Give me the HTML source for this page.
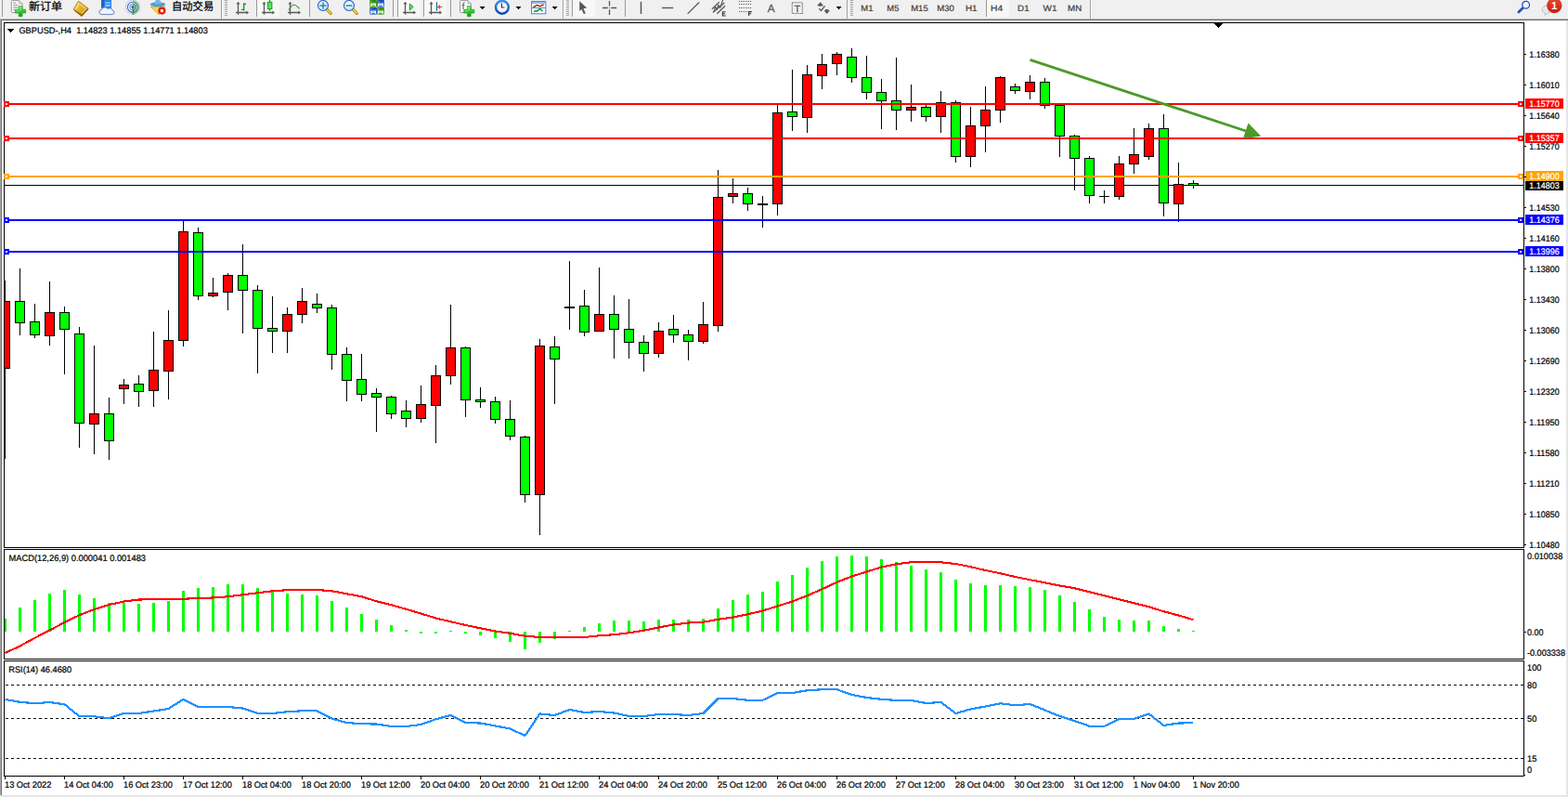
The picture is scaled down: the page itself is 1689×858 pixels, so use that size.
<!DOCTYPE html>
<html><head><meta charset="utf-8"><title>GBPUSD-,H4</title>
<style>
html,body{margin:0;padding:0;background:#fff;}
body{width:1689px;height:858px;overflow:hidden;position:relative;font-family:"Liberation Sans",sans-serif;}
#tb{position:absolute;left:0;top:0;width:1689px;height:20px;background:#f0f0f0;}
svg{position:absolute;left:0;top:0;}
svg text{font-family:"Liberation Sans","Noto Sans CJK SC",sans-serif;white-space:pre;}
</style></head><body>
<div id="tb"></div>
<svg width="1689" height="858" viewBox="0 0 1689 858" shape-rendering="crispEdges" text-rendering="geometricPrecision">
<defs><clipPath id="cm"><rect x="5" y="25" width="1636" height="564"/></clipPath></defs>
<rect x="0" y="20" width="1689" height="1" fill="#b9b9b9"/>
<rect x="0" y="21" width="1689" height="1" fill="#6a6a6a"/>
<rect x="0" y="20" width="1" height="838" fill="#a6a6a6"/>
<rect x="1" y="21" width="1" height="837" fill="#747474"/>
<rect x="1687" y="22" width="2" height="836" fill="#e6e6e6"/>
<rect x="0" y="856" width="1689" height="2" fill="#e6e6e6"/>
<rect x="4" y="24" width="1638" height="1" fill="#000"/>
<rect x="4" y="589" width="1638" height="1" fill="#000"/>
<rect x="4" y="24" width="1" height="566" fill="#000"/>
<rect x="1641" y="24" width="1" height="566" fill="#000"/>
<rect x="4" y="591" width="1638" height="1" fill="#000"/>
<rect x="4" y="709" width="1638" height="1" fill="#000"/>
<rect x="4" y="591" width="1" height="119" fill="#000"/>
<rect x="1641" y="591" width="1" height="119" fill="#000"/>
<rect x="4" y="711" width="1638" height="1" fill="#000"/>
<rect x="4" y="835" width="1638" height="1" fill="#000"/>
<rect x="4" y="711" width="1" height="125" fill="#000"/>
<rect x="1641" y="711" width="1" height="125" fill="#000"/>
<rect x="5" y="199" width="1636" height="1" fill="#000"/>
<g clip-path="url(#cm)">
<rect x="5" y="302" width="1" height="192" fill="#000"/>
<rect x="0" y="324" width="11" height="73" fill="#000"/>
<rect x="1" y="325" width="9" height="71" fill="#f00"/>
<rect x="21" y="289" width="1" height="72" fill="#000"/>
<rect x="16" y="324" width="11" height="24" fill="#000"/>
<rect x="17" y="325" width="9" height="22" fill="#0f0"/>
<rect x="37" y="327" width="1" height="37" fill="#000"/>
<rect x="32" y="346" width="11" height="15" fill="#000"/>
<rect x="33" y="347" width="9" height="13" fill="#0f0"/>
<rect x="53" y="303" width="1" height="69" fill="#000"/>
<rect x="48" y="336" width="11" height="26" fill="#000"/>
<rect x="49" y="337" width="9" height="24" fill="#f00"/>
<rect x="69" y="330" width="1" height="73" fill="#000"/>
<rect x="64" y="336" width="11" height="19" fill="#000"/>
<rect x="65" y="337" width="9" height="17" fill="#0f0"/>
<rect x="85" y="352" width="1" height="130" fill="#000"/>
<rect x="80" y="359" width="11" height="97" fill="#000"/>
<rect x="81" y="360" width="9" height="95" fill="#0f0"/>
<rect x="101" y="372" width="1" height="117" fill="#000"/>
<rect x="96" y="445" width="11" height="12" fill="#000"/>
<rect x="97" y="446" width="9" height="10" fill="#f00"/>
<rect x="117" y="428" width="1" height="67" fill="#000"/>
<rect x="112" y="445" width="11" height="30" fill="#000"/>
<rect x="113" y="446" width="9" height="28" fill="#0f0"/>
<rect x="133" y="408" width="1" height="27" fill="#000"/>
<rect x="128" y="414" width="11" height="5" fill="#000"/>
<rect x="129" y="415" width="9" height="3" fill="#f00"/>
<rect x="149" y="404" width="1" height="34" fill="#000"/>
<rect x="144" y="413" width="11" height="9" fill="#000"/>
<rect x="145" y="414" width="9" height="7" fill="#0f0"/>
<rect x="165" y="357" width="1" height="81" fill="#000"/>
<rect x="160" y="398" width="11" height="23" fill="#000"/>
<rect x="161" y="399" width="9" height="21" fill="#f00"/>
<rect x="181" y="334" width="1" height="96" fill="#000"/>
<rect x="176" y="366" width="11" height="34" fill="#000"/>
<rect x="177" y="367" width="9" height="32" fill="#f00"/>
<rect x="197" y="237" width="1" height="136" fill="#000"/>
<rect x="192" y="249" width="11" height="118" fill="#000"/>
<rect x="193" y="250" width="9" height="116" fill="#f00"/>
<rect x="213" y="245" width="1" height="78" fill="#000"/>
<rect x="208" y="250" width="11" height="69" fill="#000"/>
<rect x="209" y="251" width="9" height="67" fill="#0f0"/>
<rect x="229" y="299" width="1" height="21" fill="#000"/>
<rect x="224" y="315" width="11" height="4" fill="#000"/>
<rect x="225" y="316" width="9" height="2" fill="#f00"/>
<rect x="245" y="294" width="1" height="40" fill="#000"/>
<rect x="240" y="296" width="11" height="19" fill="#000"/>
<rect x="241" y="297" width="9" height="17" fill="#f00"/>
<rect x="261" y="263" width="1" height="96" fill="#000"/>
<rect x="256" y="296" width="11" height="17" fill="#000"/>
<rect x="257" y="297" width="9" height="15" fill="#0f0"/>
<rect x="277" y="307" width="1" height="95" fill="#000"/>
<rect x="272" y="312" width="11" height="42" fill="#000"/>
<rect x="273" y="313" width="9" height="40" fill="#0f0"/>
<rect x="293" y="319" width="1" height="61" fill="#000"/>
<rect x="288" y="353" width="11" height="4" fill="#000"/>
<rect x="289" y="354" width="9" height="2" fill="#0f0"/>
<rect x="309" y="331" width="1" height="49" fill="#000"/>
<rect x="304" y="338" width="11" height="19" fill="#000"/>
<rect x="305" y="339" width="9" height="17" fill="#f00"/>
<rect x="325" y="310" width="1" height="38" fill="#000"/>
<rect x="320" y="324" width="11" height="15" fill="#000"/>
<rect x="321" y="325" width="9" height="13" fill="#f00"/>
<rect x="341" y="316" width="1" height="21" fill="#000"/>
<rect x="336" y="327" width="11" height="5" fill="#000"/>
<rect x="337" y="328" width="9" height="3" fill="#0f0"/>
<rect x="357" y="328" width="1" height="70" fill="#000"/>
<rect x="352" y="331" width="11" height="51" fill="#000"/>
<rect x="353" y="332" width="9" height="49" fill="#0f0"/>
<rect x="373" y="374" width="1" height="58" fill="#000"/>
<rect x="368" y="381" width="11" height="29" fill="#000"/>
<rect x="369" y="382" width="9" height="27" fill="#0f0"/>
<rect x="389" y="381" width="1" height="51" fill="#000"/>
<rect x="384" y="408" width="11" height="17" fill="#000"/>
<rect x="385" y="409" width="9" height="15" fill="#0f0"/>
<rect x="405" y="418" width="1" height="47" fill="#000"/>
<rect x="400" y="423" width="11" height="5" fill="#000"/>
<rect x="401" y="424" width="9" height="3" fill="#0f0"/>
<rect x="421" y="426" width="1" height="25" fill="#000"/>
<rect x="416" y="427" width="11" height="19" fill="#000"/>
<rect x="417" y="428" width="9" height="17" fill="#0f0"/>
<rect x="437" y="431" width="1" height="29" fill="#000"/>
<rect x="432" y="442" width="11" height="9" fill="#000"/>
<rect x="433" y="443" width="9" height="7" fill="#0f0"/>
<rect x="453" y="415" width="1" height="40" fill="#000"/>
<rect x="448" y="435" width="11" height="16" fill="#000"/>
<rect x="449" y="436" width="9" height="14" fill="#f00"/>
<rect x="469" y="393" width="1" height="84" fill="#000"/>
<rect x="464" y="404" width="11" height="33" fill="#000"/>
<rect x="465" y="405" width="9" height="31" fill="#f00"/>
<rect x="485" y="328" width="1" height="86" fill="#000"/>
<rect x="480" y="374" width="11" height="31" fill="#000"/>
<rect x="481" y="375" width="9" height="29" fill="#f00"/>
<rect x="501" y="373" width="1" height="76" fill="#000"/>
<rect x="496" y="374" width="11" height="57" fill="#000"/>
<rect x="497" y="375" width="9" height="55" fill="#0f0"/>
<rect x="517" y="417" width="1" height="22" fill="#000"/>
<rect x="512" y="430" width="11" height="3" fill="#000"/>
<rect x="513" y="431" width="9" height="1" fill="#0f0"/>
<rect x="533" y="427" width="1" height="29" fill="#000"/>
<rect x="528" y="432" width="11" height="20" fill="#000"/>
<rect x="529" y="433" width="9" height="18" fill="#0f0"/>
<rect x="549" y="431" width="1" height="43" fill="#000"/>
<rect x="544" y="451" width="11" height="19" fill="#000"/>
<rect x="545" y="452" width="9" height="17" fill="#0f0"/>
<rect x="565" y="469" width="1" height="72" fill="#000"/>
<rect x="560" y="470" width="11" height="63" fill="#000"/>
<rect x="561" y="471" width="9" height="61" fill="#0f0"/>
<rect x="581" y="365" width="1" height="211" fill="#000"/>
<rect x="576" y="372" width="11" height="161" fill="#000"/>
<rect x="577" y="373" width="9" height="159" fill="#f00"/>
<rect x="597" y="362" width="1" height="73" fill="#000"/>
<rect x="592" y="373" width="11" height="14" fill="#000"/>
<rect x="593" y="374" width="9" height="12" fill="#0f0"/>
<rect x="613" y="281" width="1" height="74" fill="#000"/>
<rect x="608" y="330" width="11" height="2" fill="#000"/>
<rect x="629" y="312" width="1" height="50" fill="#000"/>
<rect x="624" y="329" width="11" height="29" fill="#000"/>
<rect x="625" y="330" width="9" height="27" fill="#0f0"/>
<rect x="645" y="288" width="1" height="69" fill="#000"/>
<rect x="640" y="338" width="11" height="19" fill="#000"/>
<rect x="641" y="339" width="9" height="17" fill="#f00"/>
<rect x="661" y="318" width="1" height="68" fill="#000"/>
<rect x="656" y="338" width="11" height="17" fill="#000"/>
<rect x="657" y="339" width="9" height="15" fill="#0f0"/>
<rect x="677" y="322" width="1" height="64" fill="#000"/>
<rect x="672" y="354" width="11" height="15" fill="#000"/>
<rect x="673" y="355" width="9" height="13" fill="#0f0"/>
<rect x="693" y="361" width="1" height="39" fill="#000"/>
<rect x="688" y="368" width="11" height="13" fill="#000"/>
<rect x="689" y="369" width="9" height="11" fill="#0f0"/>
<rect x="709" y="347" width="1" height="38" fill="#000"/>
<rect x="704" y="356" width="11" height="25" fill="#000"/>
<rect x="705" y="357" width="9" height="23" fill="#f00"/>
<rect x="725" y="339" width="1" height="30" fill="#000"/>
<rect x="720" y="354" width="11" height="7" fill="#000"/>
<rect x="721" y="355" width="9" height="5" fill="#0f0"/>
<rect x="741" y="355" width="1" height="33" fill="#000"/>
<rect x="736" y="360" width="11" height="8" fill="#000"/>
<rect x="737" y="361" width="9" height="6" fill="#0f0"/>
<rect x="757" y="325" width="1" height="45" fill="#000"/>
<rect x="752" y="349" width="11" height="19" fill="#000"/>
<rect x="753" y="350" width="9" height="17" fill="#f00"/>
<rect x="773" y="183" width="1" height="174" fill="#000"/>
<rect x="768" y="212" width="11" height="139" fill="#000"/>
<rect x="769" y="213" width="9" height="137" fill="#f00"/>
<rect x="789" y="192" width="1" height="27" fill="#000"/>
<rect x="784" y="208" width="11" height="4" fill="#000"/>
<rect x="785" y="209" width="9" height="2" fill="#f00"/>
<rect x="805" y="202" width="1" height="25" fill="#000"/>
<rect x="800" y="208" width="11" height="12" fill="#000"/>
<rect x="801" y="209" width="9" height="10" fill="#0f0"/>
<rect x="821" y="211" width="1" height="34" fill="#000"/>
<rect x="816" y="219" width="11" height="2" fill="#000"/>
<rect x="837" y="113" width="1" height="119" fill="#000"/>
<rect x="832" y="121" width="11" height="99" fill="#000"/>
<rect x="833" y="122" width="9" height="97" fill="#f00"/>
<rect x="853" y="75" width="1" height="66" fill="#000"/>
<rect x="848" y="120" width="11" height="6" fill="#000"/>
<rect x="849" y="121" width="9" height="4" fill="#0f0"/>
<rect x="869" y="70" width="1" height="73" fill="#000"/>
<rect x="864" y="80" width="11" height="47" fill="#000"/>
<rect x="865" y="81" width="9" height="45" fill="#f00"/>
<rect x="885" y="58" width="1" height="38" fill="#000"/>
<rect x="880" y="69" width="11" height="13" fill="#000"/>
<rect x="881" y="70" width="9" height="11" fill="#f00"/>
<rect x="901" y="56" width="1" height="25" fill="#000"/>
<rect x="896" y="58" width="11" height="11" fill="#000"/>
<rect x="897" y="59" width="9" height="9" fill="#f00"/>
<rect x="917" y="52" width="1" height="37" fill="#000"/>
<rect x="912" y="61" width="11" height="23" fill="#000"/>
<rect x="913" y="62" width="9" height="21" fill="#0f0"/>
<rect x="933" y="60" width="1" height="47" fill="#000"/>
<rect x="928" y="83" width="11" height="17" fill="#000"/>
<rect x="929" y="84" width="9" height="15" fill="#0f0"/>
<rect x="949" y="85" width="1" height="54" fill="#000"/>
<rect x="944" y="99" width="11" height="10" fill="#000"/>
<rect x="945" y="100" width="9" height="8" fill="#0f0"/>
<rect x="965" y="62" width="1" height="78" fill="#000"/>
<rect x="960" y="108" width="11" height="11" fill="#000"/>
<rect x="961" y="109" width="9" height="9" fill="#0f0"/>
<rect x="981" y="91" width="1" height="40" fill="#000"/>
<rect x="976" y="115" width="11" height="4" fill="#000"/>
<rect x="977" y="116" width="9" height="2" fill="#f00"/>
<rect x="997" y="113" width="1" height="18" fill="#000"/>
<rect x="992" y="115" width="11" height="11" fill="#000"/>
<rect x="993" y="116" width="9" height="9" fill="#0f0"/>
<rect x="1013" y="98" width="1" height="45" fill="#000"/>
<rect x="1008" y="110" width="11" height="16" fill="#000"/>
<rect x="1009" y="111" width="9" height="14" fill="#f00"/>
<rect x="1029" y="108" width="1" height="67" fill="#000"/>
<rect x="1024" y="110" width="11" height="59" fill="#000"/>
<rect x="1025" y="111" width="9" height="57" fill="#0f0"/>
<rect x="1045" y="115" width="1" height="65" fill="#000"/>
<rect x="1040" y="135" width="11" height="34" fill="#000"/>
<rect x="1041" y="136" width="9" height="32" fill="#f00"/>
<rect x="1061" y="93" width="1" height="71" fill="#000"/>
<rect x="1056" y="118" width="11" height="18" fill="#000"/>
<rect x="1057" y="119" width="9" height="16" fill="#f00"/>
<rect x="1077" y="82" width="1" height="50" fill="#000"/>
<rect x="1072" y="83" width="11" height="36" fill="#000"/>
<rect x="1073" y="84" width="9" height="34" fill="#f00"/>
<rect x="1093" y="90" width="1" height="11" fill="#000"/>
<rect x="1088" y="93" width="11" height="5" fill="#000"/>
<rect x="1089" y="94" width="9" height="3" fill="#0f0"/>
<rect x="1109" y="81" width="1" height="26" fill="#000"/>
<rect x="1104" y="88" width="11" height="11" fill="#000"/>
<rect x="1105" y="89" width="9" height="9" fill="#f00"/>
<rect x="1125" y="84" width="1" height="33" fill="#000"/>
<rect x="1120" y="88" width="11" height="26" fill="#000"/>
<rect x="1121" y="89" width="9" height="24" fill="#0f0"/>
<rect x="1141" y="112" width="1" height="57" fill="#000"/>
<rect x="1136" y="113" width="11" height="34" fill="#000"/>
<rect x="1137" y="114" width="9" height="32" fill="#0f0"/>
<rect x="1157" y="145" width="1" height="60" fill="#000"/>
<rect x="1152" y="146" width="11" height="25" fill="#000"/>
<rect x="1153" y="147" width="9" height="23" fill="#0f0"/>
<rect x="1173" y="168" width="1" height="51" fill="#000"/>
<rect x="1168" y="170" width="11" height="41" fill="#000"/>
<rect x="1169" y="171" width="9" height="39" fill="#0f0"/>
<rect x="1189" y="205" width="1" height="14" fill="#000"/>
<rect x="1184" y="211" width="11" height="1" fill="#000"/>
<rect x="1205" y="168" width="1" height="47" fill="#000"/>
<rect x="1200" y="176" width="11" height="36" fill="#000"/>
<rect x="1201" y="177" width="9" height="34" fill="#f00"/>
<rect x="1221" y="138" width="1" height="49" fill="#000"/>
<rect x="1216" y="166" width="11" height="11" fill="#000"/>
<rect x="1217" y="167" width="9" height="9" fill="#f00"/>
<rect x="1237" y="133" width="1" height="39" fill="#000"/>
<rect x="1232" y="138" width="11" height="31" fill="#000"/>
<rect x="1233" y="139" width="9" height="29" fill="#f00"/>
<rect x="1253" y="123" width="1" height="110" fill="#000"/>
<rect x="1248" y="138" width="11" height="81" fill="#000"/>
<rect x="1249" y="139" width="9" height="79" fill="#0f0"/>
<rect x="1269" y="175" width="1" height="64" fill="#000"/>
<rect x="1264" y="198" width="11" height="22" fill="#000"/>
<rect x="1265" y="199" width="9" height="20" fill="#f00"/>
<rect x="1285" y="194" width="1" height="9" fill="#000"/>
<rect x="1280" y="197" width="11" height="3" fill="#000"/>
<rect x="1281" y="198" width="9" height="1" fill="#0f0"/>
</g>
<rect x="5" y="111" width="1636" height="2" fill="#f00"/>
<rect x="4" y="109" width="6" height="6" fill="#f00"/>
<rect x="6" y="111" width="2" height="2" fill="#fff"/>
<rect x="1635" y="109" width="6" height="6" fill="#f00"/>
<rect x="1637" y="111" width="2" height="2" fill="#fff"/>
<rect x="1643" y="106" width="41" height="11" fill="#f00"/>
<text x="1647.3" y="115" font-size="9.5" fill="#fff" textLength="32.4" lengthAdjust="spacingAndGlyphs" stroke="#fff" stroke-width=".22" xml:space="preserve">1.15770</text>
<rect x="5" y="148" width="1636" height="2" fill="#f00"/>
<rect x="4" y="146" width="6" height="6" fill="#f00"/>
<rect x="6" y="148" width="2" height="2" fill="#fff"/>
<rect x="1635" y="146" width="6" height="6" fill="#f00"/>
<rect x="1637" y="148" width="2" height="2" fill="#fff"/>
<rect x="1643" y="143" width="41" height="11" fill="#f00"/>
<text x="1647.3" y="152" font-size="9.5" fill="#fff" textLength="32.4" lengthAdjust="spacingAndGlyphs" stroke="#fff" stroke-width=".22" xml:space="preserve">1.15357</text>
<rect x="5" y="189" width="1636" height="2" fill="#ffa500"/>
<rect x="4" y="187" width="6" height="6" fill="#ffa500"/>
<rect x="6" y="189" width="2" height="2" fill="#fff"/>
<rect x="1635" y="187" width="6" height="6" fill="#ffa500"/>
<rect x="1637" y="189" width="2" height="2" fill="#fff"/>
<rect x="1643" y="184" width="41" height="11" fill="#ffa500"/>
<text x="1647.3" y="193" font-size="9.5" fill="#fff" textLength="32.4" lengthAdjust="spacingAndGlyphs" stroke="#fff" stroke-width=".22" xml:space="preserve">1.14900</text>
<rect x="5" y="236" width="1636" height="2" fill="#00f"/>
<rect x="4" y="234" width="6" height="6" fill="#00f"/>
<rect x="6" y="236" width="2" height="2" fill="#fff"/>
<rect x="1635" y="234" width="6" height="6" fill="#00f"/>
<rect x="1637" y="236" width="2" height="2" fill="#fff"/>
<rect x="1643" y="231" width="41" height="11" fill="#00f"/>
<text x="1647.3" y="240" font-size="9.5" fill="#fff" textLength="32.4" lengthAdjust="spacingAndGlyphs" stroke="#fff" stroke-width=".22" xml:space="preserve">1.14376</text>
<rect x="5" y="270" width="1636" height="2" fill="#00f"/>
<rect x="4" y="268" width="6" height="6" fill="#00f"/>
<rect x="6" y="270" width="2" height="2" fill="#fff"/>
<rect x="1635" y="268" width="6" height="6" fill="#00f"/>
<rect x="1637" y="270" width="2" height="2" fill="#fff"/>
<rect x="1643" y="265" width="41" height="11" fill="#00f"/>
<text x="1647.3" y="274" font-size="9.5" fill="#fff" textLength="32.4" lengthAdjust="spacingAndGlyphs" stroke="#fff" stroke-width=".22" xml:space="preserve">1.13996</text>
<rect x="1643" y="195" width="41" height="10" fill="#000"/>
<text x="1647.3" y="203" font-size="9.5" fill="#fff" textLength="32.4" lengthAdjust="spacingAndGlyphs" stroke="#fff" stroke-width=".22" xml:space="preserve">1.14803</text>
<rect x="1642" y="58" width="2" height="1" fill="#000"/>
<text x="1647.3" y="62" font-size="9.5" fill="#000" textLength="32.4" lengthAdjust="spacingAndGlyphs" stroke="#000" stroke-width=".22" xml:space="preserve">1.16380</text>
<rect x="1642" y="91" width="2" height="1" fill="#000"/>
<text x="1647.3" y="95" font-size="9.5" fill="#000" textLength="32.4" lengthAdjust="spacingAndGlyphs" stroke="#000" stroke-width=".22" xml:space="preserve">1.16010</text>
<rect x="1642" y="124" width="2" height="1" fill="#000"/>
<text x="1647.3" y="128" font-size="9.5" fill="#000" textLength="32.4" lengthAdjust="spacingAndGlyphs" stroke="#000" stroke-width=".22" xml:space="preserve">1.15640</text>
<rect x="1642" y="157" width="2" height="1" fill="#000"/>
<text x="1647.3" y="161" font-size="9.5" fill="#000" textLength="32.4" lengthAdjust="spacingAndGlyphs" stroke="#000" stroke-width=".22" xml:space="preserve">1.15270</text>
<rect x="1642" y="190" width="2" height="1" fill="#000"/>
<rect x="1642" y="223" width="2" height="1" fill="#000"/>
<text x="1647.3" y="227" font-size="9.5" fill="#000" textLength="32.4" lengthAdjust="spacingAndGlyphs" stroke="#000" stroke-width=".22" xml:space="preserve">1.14530</text>
<rect x="1642" y="256" width="2" height="1" fill="#000"/>
<text x="1647.3" y="260" font-size="9.5" fill="#000" textLength="32.4" lengthAdjust="spacingAndGlyphs" stroke="#000" stroke-width=".22" xml:space="preserve">1.14160</text>
<rect x="1642" y="289" width="2" height="1" fill="#000"/>
<text x="1647.3" y="293" font-size="9.5" fill="#000" textLength="32.4" lengthAdjust="spacingAndGlyphs" stroke="#000" stroke-width=".22" xml:space="preserve">1.13800</text>
<rect x="1642" y="322" width="2" height="1" fill="#000"/>
<text x="1647.3" y="326" font-size="9.5" fill="#000" textLength="32.4" lengthAdjust="spacingAndGlyphs" stroke="#000" stroke-width=".22" xml:space="preserve">1.13430</text>
<rect x="1642" y="355" width="2" height="1" fill="#000"/>
<text x="1647.3" y="359" font-size="9.5" fill="#000" textLength="32.4" lengthAdjust="spacingAndGlyphs" stroke="#000" stroke-width=".22" xml:space="preserve">1.13060</text>
<rect x="1642" y="388" width="2" height="1" fill="#000"/>
<text x="1647.3" y="392" font-size="9.5" fill="#000" textLength="32.4" lengthAdjust="spacingAndGlyphs" stroke="#000" stroke-width=".22" xml:space="preserve">1.12690</text>
<rect x="1642" y="421" width="2" height="1" fill="#000"/>
<text x="1647.3" y="425" font-size="9.5" fill="#000" textLength="32.4" lengthAdjust="spacingAndGlyphs" stroke="#000" stroke-width=".22" xml:space="preserve">1.12320</text>
<rect x="1642" y="454" width="2" height="1" fill="#000"/>
<text x="1647.3" y="458" font-size="9.5" fill="#000" textLength="32.4" lengthAdjust="spacingAndGlyphs" stroke="#000" stroke-width=".22" xml:space="preserve">1.11950</text>
<rect x="1642" y="487" width="2" height="1" fill="#000"/>
<text x="1647.3" y="491" font-size="9.5" fill="#000" textLength="32.4" lengthAdjust="spacingAndGlyphs" stroke="#000" stroke-width=".22" xml:space="preserve">1.11580</text>
<rect x="1642" y="520" width="2" height="1" fill="#000"/>
<text x="1647.3" y="524" font-size="9.5" fill="#000" textLength="32.4" lengthAdjust="spacingAndGlyphs" stroke="#000" stroke-width=".22" xml:space="preserve">1.11210</text>
<rect x="1642" y="553" width="2" height="1" fill="#000"/>
<text x="1647.3" y="557" font-size="9.5" fill="#000" textLength="32.4" lengthAdjust="spacingAndGlyphs" stroke="#000" stroke-width=".22" xml:space="preserve">1.10850</text>
<rect x="1642" y="586" width="2" height="1" fill="#000"/>
<text x="1647.3" y="590" font-size="9.5" fill="#000" textLength="32.4" lengthAdjust="spacingAndGlyphs" stroke="#000" stroke-width=".22" xml:space="preserve">1.10480</text>
<polygon points="1307.5,25 1317.5,25 1312.5,30" fill="#000"/>
<polygon points="8,31 15,31 11.5,35" fill="#000"/>
<text x="20.4" y="36" font-size="9.5" fill="#000" textLength="203.4" lengthAdjust="spacingAndGlyphs" stroke="#000" stroke-width=".22" xml:space="preserve">GBPUSD-,H4  1.14823 1.14855 1.14771 1.14803</text>
<g shape-rendering="geometricPrecision"><line x1="1109.5" y1="64.3" x2="1342" y2="141" stroke="#4c9a2a" stroke-width="2.8"/><polygon points="1358.3,146.6 1344.6,132.6 1338.9,149.2" fill="#4c9a2a"/></g>
<rect x="5" y="666" width="2" height="14" fill="#0f0"/>
<rect x="20" y="654" width="3" height="26" fill="#0f0"/>
<rect x="36" y="646" width="3" height="34" fill="#0f0"/>
<rect x="52" y="639" width="3" height="41" fill="#0f0"/>
<rect x="68" y="635" width="3" height="45" fill="#0f0"/>
<rect x="84" y="640" width="3" height="40" fill="#0f0"/>
<rect x="100" y="644" width="3" height="36" fill="#0f0"/>
<rect x="116" y="649" width="3" height="31" fill="#0f0"/>
<rect x="132" y="649" width="3" height="31" fill="#0f0"/>
<rect x="148" y="650" width="3" height="30" fill="#0f0"/>
<rect x="164" y="649" width="3" height="31" fill="#0f0"/>
<rect x="180" y="647" width="3" height="33" fill="#0f0"/>
<rect x="196" y="636" width="3" height="44" fill="#0f0"/>
<rect x="212" y="633" width="3" height="47" fill="#0f0"/>
<rect x="228" y="632" width="3" height="48" fill="#0f0"/>
<rect x="244" y="629" width="3" height="51" fill="#0f0"/>
<rect x="260" y="629" width="3" height="51" fill="#0f0"/>
<rect x="276" y="633" width="3" height="47" fill="#0f0"/>
<rect x="292" y="637" width="3" height="43" fill="#0f0"/>
<rect x="308" y="639" width="3" height="41" fill="#0f0"/>
<rect x="324" y="640" width="3" height="40" fill="#0f0"/>
<rect x="340" y="641" width="3" height="39" fill="#0f0"/>
<rect x="356" y="647" width="3" height="33" fill="#0f0"/>
<rect x="372" y="654" width="3" height="26" fill="#0f0"/>
<rect x="388" y="661" width="3" height="19" fill="#0f0"/>
<rect x="404" y="667" width="3" height="13" fill="#0f0"/>
<rect x="420" y="673" width="3" height="7" fill="#0f0"/>
<rect x="436" y="678" width="3" height="2" fill="#0f0"/>
<rect x="452" y="680" width="3" height="2" fill="#0f0"/>
<rect x="468" y="680" width="3" height="2" fill="#0f0"/>
<rect x="484" y="679" width="3" height="1" fill="#0f0"/>
<rect x="500" y="680" width="3" height="2" fill="#0f0"/>
<rect x="516" y="680" width="3" height="4" fill="#0f0"/>
<rect x="532" y="680" width="3" height="7" fill="#0f0"/>
<rect x="548" y="680" width="3" height="11" fill="#0f0"/>
<rect x="564" y="680" width="3" height="19" fill="#0f0"/>
<rect x="580" y="680" width="3" height="12" fill="#0f0"/>
<rect x="596" y="680" width="3" height="8" fill="#0f0"/>
<rect x="612" y="679" width="3" height="1" fill="#0f0"/>
<rect x="628" y="675" width="3" height="5" fill="#0f0"/>
<rect x="644" y="671" width="3" height="9" fill="#0f0"/>
<rect x="660" y="668" width="3" height="12" fill="#0f0"/>
<rect x="676" y="668" width="3" height="12" fill="#0f0"/>
<rect x="692" y="669" width="3" height="11" fill="#0f0"/>
<rect x="708" y="667" width="3" height="13" fill="#0f0"/>
<rect x="724" y="667" width="3" height="13" fill="#0f0"/>
<rect x="740" y="667" width="3" height="13" fill="#0f0"/>
<rect x="756" y="666" width="3" height="14" fill="#0f0"/>
<rect x="772" y="655" width="3" height="25" fill="#0f0"/>
<rect x="788" y="646" width="3" height="34" fill="#0f0"/>
<rect x="804" y="640" width="3" height="40" fill="#0f0"/>
<rect x="820" y="637" width="3" height="43" fill="#0f0"/>
<rect x="836" y="626" width="3" height="54" fill="#0f0"/>
<rect x="852" y="619" width="3" height="61" fill="#0f0"/>
<rect x="868" y="611" width="3" height="69" fill="#0f0"/>
<rect x="884" y="604" width="3" height="76" fill="#0f0"/>
<rect x="900" y="599" width="3" height="81" fill="#0f0"/>
<rect x="916" y="598" width="3" height="82" fill="#0f0"/>
<rect x="932" y="599" width="3" height="81" fill="#0f0"/>
<rect x="948" y="602" width="3" height="78" fill="#0f0"/>
<rect x="964" y="605" width="3" height="75" fill="#0f0"/>
<rect x="980" y="609" width="3" height="71" fill="#0f0"/>
<rect x="996" y="613" width="3" height="67" fill="#0f0"/>
<rect x="1012" y="616" width="3" height="64" fill="#0f0"/>
<rect x="1028" y="624" width="3" height="56" fill="#0f0"/>
<rect x="1044" y="628" width="3" height="52" fill="#0f0"/>
<rect x="1060" y="630" width="3" height="50" fill="#0f0"/>
<rect x="1076" y="630" width="3" height="50" fill="#0f0"/>
<rect x="1092" y="631" width="3" height="49" fill="#0f0"/>
<rect x="1108" y="632" width="3" height="48" fill="#0f0"/>
<rect x="1124" y="635" width="3" height="45" fill="#0f0"/>
<rect x="1140" y="641" width="3" height="39" fill="#0f0"/>
<rect x="1156" y="648" width="3" height="32" fill="#0f0"/>
<rect x="1172" y="656" width="3" height="24" fill="#0f0"/>
<rect x="1188" y="664" width="3" height="16" fill="#0f0"/>
<rect x="1204" y="667" width="3" height="13" fill="#0f0"/>
<rect x="1220" y="668" width="3" height="12" fill="#0f0"/>
<rect x="1236" y="668" width="3" height="12" fill="#0f0"/>
<rect x="1252" y="674" width="3" height="6" fill="#0f0"/>
<rect x="1268" y="677" width="3" height="3" fill="#0f0"/>
<rect x="1284" y="679" width="3" height="1" fill="#0f0"/>
<polyline points="5.5,703 21.5,695.5 37.5,686.75 53.5,678.5 69.5,670 85.5,662.25 101.5,656 117.5,651 133.5,647.5 149.5,645.5 165.5,645.25 181.5,645.25 197.5,644.75 213.5,644 229.5,643.5 245.5,642.25 261.5,640.25 277.5,638.25 293.5,636.25 309.5,635.25 325.5,635 341.5,635 357.5,636.25 373.5,639.25 389.5,642.25 405.5,647.25 421.5,651.25 437.5,655.75 453.5,660.5 469.5,665.5 485.5,669.25 501.5,673 517.5,676.25 533.5,679.5 549.5,681.75 565.5,684.75 581.5,686 597.5,686.25 613.5,686.25 629.5,686 645.5,684.25 661.5,683.25 677.5,681.25 693.5,678.75 709.5,675.5 725.5,672.5 741.5,670.5 757.5,669.75 773.5,666.75 789.5,664.5 805.5,661.25 821.5,657.5 837.5,652.5 853.5,647.5 869.5,641.25 885.5,634.25 901.5,626.75 917.5,620.5 933.5,615.5 949.5,610.5 965.5,607.25 981.5,605.25 997.5,605 1013.5,605.25 1029.5,607 1045.5,610.25 1061.5,614 1077.5,617.25 1093.5,621 1109.5,624.25 1125.5,627.25 1141.5,630.5 1157.5,633.25 1173.5,637.25 1189.5,641.25 1205.5,645.25 1221.5,649.25 1237.5,653.25 1253.5,658.25 1269.5,662.5 1285.5,667.25" fill="none" stroke="#f00" stroke-width="2.1" stroke-linejoin="round"/>
<text x="9.5" y="604" font-size="9.5" fill="#000" textLength="147.5" lengthAdjust="spacingAndGlyphs" stroke="#000" stroke-width=".22" xml:space="preserve">MACD(12,26,9) 0.000041 0.001483</text>
<text x="1645" y="601.6" font-size="9.5" fill="#000" textLength="38.3" lengthAdjust="spacingAndGlyphs" stroke="#000" stroke-width=".22" xml:space="preserve">0.010038</text>
<text x="1645" y="683.6" font-size="9.5" fill="#000" textLength="17.5" lengthAdjust="spacingAndGlyphs" stroke="#000" stroke-width=".22" xml:space="preserve">0.00</text>
<text x="1645" y="705.8" font-size="9.5" fill="#000" textLength="41" lengthAdjust="spacingAndGlyphs" stroke="#000" stroke-width=".22" xml:space="preserve">-0.003338</text>
<rect x="1642" y="680" width="2" height="1" fill="#000"/>
<line x1="6" y1="737.5" x2="1641" y2="737.5" stroke="#000" stroke-width="1" stroke-dasharray="3 3"/>
<line x1="6" y1="773.5" x2="1641" y2="773.5" stroke="#000" stroke-width="1" stroke-dasharray="3 3"/>
<line x1="6" y1="816.5" x2="1641" y2="816.5" stroke="#000" stroke-width="1" stroke-dasharray="3 3"/>
<polyline points="5.5,753 21.5,755.75 37.5,757.25 53.5,756 69.5,758.25 85.5,771.25 101.5,771.25 117.5,773.25 133.5,768 149.5,768 165.5,765.5 181.5,763 197.5,752.75 213.5,761 229.5,761 245.5,761 261.5,762.5 277.5,767.75 293.5,768 309.5,766.25 325.5,765.25 341.5,765.25 357.5,773.75 373.5,778 389.5,779.25 405.5,779.5 421.5,782 437.5,782 453.5,780 469.5,774.25 485.5,770 501.5,778 517.5,778.5 533.5,781.5 549.5,784.5 565.5,792 581.5,768.5 597.5,770 613.5,764 629.5,767 645.5,766 661.5,767.5 677.5,771 693.5,771 709.5,769 725.5,769 741.5,770 757.5,768 773.5,752 789.5,752 805.5,753.75 821.5,753.75 837.5,746 853.5,746 869.5,743.25 885.5,742.25 901.5,742.25 917.5,748 933.5,751 949.5,752.75 965.5,754 981.5,754 997.5,757 1013.5,756 1029.5,768 1045.5,763.5 1061.5,760.5 1077.5,757.25 1093.5,759.25 1109.5,758 1125.5,764.5 1141.5,771 1157.5,776 1173.5,781.75 1189.5,781.75 1205.5,774.25 1221.5,773.75 1237.5,768.5 1253.5,781 1269.5,778.5 1285.5,778.25" fill="none" stroke="#1e90ff" stroke-width="2.2" stroke-linejoin="round"/>
<text x="9.2" y="724" font-size="9.5" fill="#000" textLength="68" lengthAdjust="spacingAndGlyphs" stroke="#000" stroke-width=".22" xml:space="preserve">RSI(14) 46.4680</text>
<text x="1645" y="721.7" font-size="9.5" fill="#000" textLength="15.4" lengthAdjust="spacingAndGlyphs" stroke="#000" stroke-width=".22" xml:space="preserve">100</text>
<text x="1645" y="741.2" font-size="9.5" fill="#000" textLength="10.27" lengthAdjust="spacingAndGlyphs" stroke="#000" stroke-width=".22" xml:space="preserve">80</text>
<text x="1645" y="776.8" font-size="9.5" fill="#000" textLength="10.27" lengthAdjust="spacingAndGlyphs" stroke="#000" stroke-width=".22" xml:space="preserve">50</text>
<text x="1645" y="819.9" font-size="9.5" fill="#000" textLength="10.27" lengthAdjust="spacingAndGlyphs" stroke="#000" stroke-width=".22" xml:space="preserve">15</text>
<text x="1645" y="832.2" font-size="9.5" fill="#000" textLength="5.13" lengthAdjust="spacingAndGlyphs" stroke="#000" stroke-width=".22" xml:space="preserve">0</text>
<rect x="1642" y="834" width="1" height="1" fill="#000"/>
<rect x="5" y="836" width="1" height="3" fill="#000"/>
<text x="5" y="848" font-size="9.5" fill="#000" textLength="50.28" lengthAdjust="spacingAndGlyphs" stroke="#000" stroke-width=".22" xml:space="preserve">13 Oct 2022</text>
<rect x="69" y="836" width="1" height="3" fill="#000"/>
<text x="69" y="848" font-size="9.5" fill="#000" textLength="52.85" lengthAdjust="spacingAndGlyphs" stroke="#000" stroke-width=".22" xml:space="preserve">14 Oct 04:00</text>
<rect x="133" y="836" width="1" height="3" fill="#000"/>
<text x="133" y="848" font-size="9.5" fill="#000" textLength="52.85" lengthAdjust="spacingAndGlyphs" stroke="#000" stroke-width=".22" xml:space="preserve">16 Oct 23:00</text>
<rect x="197" y="836" width="1" height="3" fill="#000"/>
<text x="197" y="848" font-size="9.5" fill="#000" textLength="52.85" lengthAdjust="spacingAndGlyphs" stroke="#000" stroke-width=".22" xml:space="preserve">17 Oct 12:00</text>
<rect x="261" y="836" width="1" height="3" fill="#000"/>
<text x="261" y="848" font-size="9.5" fill="#000" textLength="52.85" lengthAdjust="spacingAndGlyphs" stroke="#000" stroke-width=".22" xml:space="preserve">18 Oct 04:00</text>
<rect x="325" y="836" width="1" height="3" fill="#000"/>
<text x="325" y="848" font-size="9.5" fill="#000" textLength="52.85" lengthAdjust="spacingAndGlyphs" stroke="#000" stroke-width=".22" xml:space="preserve">18 Oct 20:00</text>
<rect x="389" y="836" width="1" height="3" fill="#000"/>
<text x="389" y="848" font-size="9.5" fill="#000" textLength="52.85" lengthAdjust="spacingAndGlyphs" stroke="#000" stroke-width=".22" xml:space="preserve">19 Oct 12:00</text>
<rect x="453" y="836" width="1" height="3" fill="#000"/>
<text x="453" y="848" font-size="9.5" fill="#000" textLength="52.85" lengthAdjust="spacingAndGlyphs" stroke="#000" stroke-width=".22" xml:space="preserve">20 Oct 04:00</text>
<rect x="517" y="836" width="1" height="3" fill="#000"/>
<text x="517" y="848" font-size="9.5" fill="#000" textLength="52.85" lengthAdjust="spacingAndGlyphs" stroke="#000" stroke-width=".22" xml:space="preserve">20 Oct 20:00</text>
<rect x="581" y="836" width="1" height="3" fill="#000"/>
<text x="581" y="848" font-size="9.5" fill="#000" textLength="52.85" lengthAdjust="spacingAndGlyphs" stroke="#000" stroke-width=".22" xml:space="preserve">21 Oct 12:00</text>
<rect x="645" y="836" width="1" height="3" fill="#000"/>
<text x="645" y="848" font-size="9.5" fill="#000" textLength="52.85" lengthAdjust="spacingAndGlyphs" stroke="#000" stroke-width=".22" xml:space="preserve">24 Oct 04:00</text>
<rect x="709" y="836" width="1" height="3" fill="#000"/>
<text x="709" y="848" font-size="9.5" fill="#000" textLength="52.85" lengthAdjust="spacingAndGlyphs" stroke="#000" stroke-width=".22" xml:space="preserve">24 Oct 20:00</text>
<rect x="773" y="836" width="1" height="3" fill="#000"/>
<text x="773" y="848" font-size="9.5" fill="#000" textLength="52.85" lengthAdjust="spacingAndGlyphs" stroke="#000" stroke-width=".22" xml:space="preserve">25 Oct 12:00</text>
<rect x="837" y="836" width="1" height="3" fill="#000"/>
<text x="837" y="848" font-size="9.5" fill="#000" textLength="52.85" lengthAdjust="spacingAndGlyphs" stroke="#000" stroke-width=".22" xml:space="preserve">26 Oct 04:00</text>
<rect x="901" y="836" width="1" height="3" fill="#000"/>
<text x="901" y="848" font-size="9.5" fill="#000" textLength="52.85" lengthAdjust="spacingAndGlyphs" stroke="#000" stroke-width=".22" xml:space="preserve">26 Oct 20:00</text>
<rect x="965" y="836" width="1" height="3" fill="#000"/>
<text x="965" y="848" font-size="9.5" fill="#000" textLength="52.85" lengthAdjust="spacingAndGlyphs" stroke="#000" stroke-width=".22" xml:space="preserve">27 Oct 12:00</text>
<rect x="1029" y="836" width="1" height="3" fill="#000"/>
<text x="1029" y="848" font-size="9.5" fill="#000" textLength="52.85" lengthAdjust="spacingAndGlyphs" stroke="#000" stroke-width=".22" xml:space="preserve">28 Oct 04:00</text>
<rect x="1093" y="836" width="1" height="3" fill="#000"/>
<text x="1093" y="848" font-size="9.5" fill="#000" textLength="52.85" lengthAdjust="spacingAndGlyphs" stroke="#000" stroke-width=".22" xml:space="preserve">30 Oct 23:00</text>
<rect x="1157" y="836" width="1" height="3" fill="#000"/>
<text x="1157" y="848" font-size="9.5" fill="#000" textLength="52.85" lengthAdjust="spacingAndGlyphs" stroke="#000" stroke-width=".22" xml:space="preserve">31 Oct 12:00</text>
<rect x="1221" y="836" width="1" height="3" fill="#000"/>
<text x="1221" y="848" font-size="9.5" fill="#000" textLength="49.77" lengthAdjust="spacingAndGlyphs" stroke="#000" stroke-width=".22" xml:space="preserve">1 Nov 04:00</text>
<rect x="1285" y="836" width="1" height="3" fill="#000"/>
<text x="1285" y="848" font-size="9.5" fill="#000" textLength="49.77" lengthAdjust="spacingAndGlyphs" stroke="#000" stroke-width=".22" xml:space="preserve">1 Nov 20:00</text>
<defs><pattern id="chk" width="2" height="2" patternUnits="userSpaceOnUse"><rect width="2" height="2" fill="#f0f0f0"/><rect width="1" height="1" fill="#fff"/><rect x="1" y="1" width="1" height="1" fill="#fff"/></pattern><linearGradient id="gold" x1="0" y1="0" x2="1" y2="1"><stop offset="0" stop-color="#f7d860"/><stop offset=".5" stop-color="#e2b02a"/><stop offset="1" stop-color="#a8720c"/></linearGradient><linearGradient id="plus" x1="0" y1="0" x2="0" y2="1"><stop offset="0" stop-color="#5cf05c"/><stop offset="1" stop-color="#0c9a0c"/></linearGradient><linearGradient id="redb" x1="0" y1="0" x2="0" y2="1"><stop offset="0" stop-color="#e8492c"/><stop offset="1" stop-color="#c81e10"/></linearGradient><linearGradient id="bluesq" x1="0" y1="0" x2="0" y2="1"><stop offset="0" stop-color="#1c48b8"/><stop offset="1" stop-color="#3f78ee"/></linearGradient><linearGradient id="grnsq" x1="0" y1="0" x2="0" y2="1"><stop offset="0" stop-color="#2f8a0c"/><stop offset="1" stop-color="#4cae1e"/></linearGradient><radialGradient id="lens" cx=".4" cy=".35" r=".7"><stop offset="0" stop-color="#f2fbff"/><stop offset="1" stop-color="#bfe2f4"/></radialGradient><linearGradient id="clk" x1="0" y1="0" x2="0" y2="1"><stop offset="0" stop-color="#3a90f0"/><stop offset="1" stop-color="#0c48b4"/></linearGradient></defs>
<g shape-rendering="geometricPrecision">
<rect x="2" y="0" width="1" height="17.5" fill="#9a9a9a" shape-rendering="crispEdges"/>
<path d="M13.3 .6h7.5l3.3 3.3v8.6q0 1-1 1h-9.8q-1 0-1-1v-10.9q0-1 1-1z" fill="#fbfbfb" stroke="#8e8e8e" stroke-width=".9"/><path d="M20.8 .6v3.3h3.3" fill="#e4e4e4" stroke="#8e8e8e" stroke-width=".7"/>
<path d="M14.3 3.2h3M14.3 5.7h5.2M14.3 8.2h5.2M14.3 10.7h2.5" stroke="#8a8a8a" stroke-width="1"/>
<path d="M20.200000000000003 6.6h3.8v3.7h3.7v3.8h-3.7v3.7h-3.8v-3.7h-3.7v-3.8h3.7z" fill="url(#plus)" stroke="#0c8c0c" stroke-width=".5"/><path d="M21.1 7.6h1.6v3.7h-1.6zM17.5 11.2h3.6v1.2h-3.6z" fill="#a8ffa0" opacity=".55"/>
<text x="31" y="11.4" font-size="12" fill="#000" textLength="36.2" lengthAdjust="spacingAndGlyphs" stroke="#000" stroke-width=".25">新订单</text>
<path d="M84.6 1.2L95.2 9.3L88 17.7L79 10.2Z" fill="url(#gold)" stroke="#a06c0a" stroke-width=".8"/><path d="M80.3 11.3L88.2 16.5L94.6 10" stroke="#8a5a06" stroke-width="1.2" fill="none"/><path d="M85.2 3.4L81.6 9.8" stroke="#fbe89a" stroke-width="1.2"/><path d="M86.5 4.5L92.5 9.3L87.8 14.6" stroke="#ffe880" stroke-width="2" fill="none" opacity=".45"/>
<path d="M109.2 0h10.8v9h-10.8z" fill="#2a86e8"/><path d="M109.2 0h3.2v9h-3.2z" fill="#1b62c8"/><path d="M113.2 2.4h5.6v1.2h-5.6zM113.2 5.2h5.6v1.2h-5.6z" fill="#d8ecff"/><path d="M110 15.6q-3.2 0-3.2-2.6q0-2.3 2.6-2.5q.6-2.7 3.5-2.7q2.4 0 3.3 2q.8-.9 2.2-.9q2.3 0 2.6 2.2q2 .3 2 2.2q0 2.3-3 2.3z" fill="#eef3fa" stroke="#5f78b4" stroke-width=".9"/>
<circle cx="143" cy="7.8" r="7.7" fill="#eef3f8" stroke="#b4c6e0" stroke-width=".9"/><path d="M143 7.8L143 .1A7.7 7.7 0 0 1 143 15.5Z" fill="#9fd0a0" opacity=".7"/><circle cx="143" cy="7.8" r="5.6" fill="none" stroke="#4468c4" stroke-width="1.1"/><circle cx="143" cy="7.8" r="3.2" fill="none" stroke="#5a82d4" stroke-width="1"/><path d="M143 2.2A5.6 5.6 0 0 1 143 13.4M143 4.6A3.2 3.2 0 0 1 143 11" fill="none" stroke="#4a9a5a" stroke-width="1.1" opacity=".85"/><circle cx="143" cy="7.6" r="1.5" fill="#2a58c8"/><path d="M143.4 8.6V15.7" stroke="#1e9a2e" stroke-width="1.5"/>
<path d="M162.2 7.2h15.6l-6.6 8.6z" fill="#f2d648" stroke="#c89a14" stroke-width=".7"/><ellipse cx="170" cy="4.8" rx="8.2" ry="2.5" fill="#4f9ad8"/><path d="M166.3 4.4q0-4.6 3.7-4.6q3.7 0 3.7 4.6z" fill="#74b6e6"/><circle cx="174.4" cy="11.6" r="4.1" fill="#d9200f"/><rect x="172.9" y="10.1" width="3" height="3" fill="#fff"/>
<text x="185" y="11.4" font-size="12" fill="#000" textLength="45.2" lengthAdjust="spacingAndGlyphs" stroke="#000" stroke-width=".25">自动交易</text>
<rect x="238" y="0" width="1" height="20" fill="#a0a0a0" shape-rendering="crispEdges"/><rect x="239" y="0" width="1" height="20" fill="#fff" shape-rendering="crispEdges"/>
<rect x="242" y="0" width="3" height="1" fill="#a6a6a6" shape-rendering="crispEdges"/>
<rect x="242" y="2" width="3" height="1" fill="#a6a6a6" shape-rendering="crispEdges"/>
<rect x="242" y="4" width="3" height="1" fill="#a6a6a6" shape-rendering="crispEdges"/>
<rect x="242" y="6" width="3" height="1" fill="#a6a6a6" shape-rendering="crispEdges"/>
<rect x="242" y="8" width="3" height="1" fill="#a6a6a6" shape-rendering="crispEdges"/>
<rect x="242" y="10" width="3" height="1" fill="#a6a6a6" shape-rendering="crispEdges"/>
<rect x="242" y="12" width="3" height="1" fill="#a6a6a6" shape-rendering="crispEdges"/>
<rect x="242" y="14" width="3" height="1" fill="#a6a6a6" shape-rendering="crispEdges"/>
<rect x="242" y="16" width="3" height="1" fill="#a6a6a6" shape-rendering="crispEdges"/>
<path d="M256.5 2.5V15.7M254 13.5H266.5" stroke="#585858" stroke-width="1.3" fill="none"/><path d="M254.4 4.6L256.5 2L258.6 4.6Z M265.4 11.6L268 13.5L265.4 15.4Z" fill="#585858"/>
<path d="M262.7 3.2V11.6M262.7 4.4H265M260.2 10.4H262.7" stroke="#12921a" stroke-width="1.3" fill="none"/>
<rect x="277" y="0" width="24" height="18" fill="url(#chk)" shape-rendering="crispEdges"/>
<rect x="276" y="0" width="1" height="18" fill="#999" shape-rendering="crispEdges"/>
<path d="M284.5 2.5V15.7M282 13.5H294.5" stroke="#585858" stroke-width="1.3" fill="none"/><path d="M282.4 4.6L284.5 2L286.6 4.6Z M293.4 11.6L296 13.5L293.4 15.4Z" fill="#585858"/>
<path d="M290.6 0V11.7" stroke="#0f9a18" stroke-width="1.2"/><rect x="288.3" y="2.3" width="4.6" height="7.3" fill="#58e060" stroke="#0f9a18" stroke-width=".9"/>
<path d="M312.5 2.5V15.7M310 13.5H322.5" stroke="#585858" stroke-width="1.3" fill="none"/><path d="M310.4 4.6L312.5 2L314.6 4.6Z M321.4 11.6L324 13.5L321.4 15.4Z" fill="#585858"/>
<path d="M311 10.7Q314.6 5 317 5.3Q319 5.6 322.6 9.4" stroke="#2a9a32" stroke-width="1.15" fill="none"/>
<rect x="333" y="0" width="1" height="17.5" fill="#999" shape-rendering="crispEdges"/>
<path d="M352.1 10.2L356.3 14.3" stroke="#a4820e" stroke-width="3.1" stroke-linecap="round"/><path d="M352.3 10.4L356.1 14.1" stroke="#ecd23a" stroke-width="1.8" stroke-linecap="round"/><circle cx="348" cy="6" r="5.5" fill="url(#lens)" stroke="#2a66c4" stroke-width="1.15"/>
<path d="M344.4 6H351.6M348 2.4V9.6" stroke="#3a86b4" stroke-width="1.6"/>
<path d="M380.1 10.2L384.3 14.3" stroke="#a4820e" stroke-width="3.1" stroke-linecap="round"/><path d="M380.3 10.4L384.1 14.1" stroke="#ecd23a" stroke-width="1.8" stroke-linecap="round"/><circle cx="376" cy="6" r="5.5" fill="url(#lens)" stroke="#2a66c4" stroke-width="1.15"/>
<path d="M372.8 6H379.2" stroke="#3a86b4" stroke-width="1.6"/>
<rect x="398.2" y="0" width="7.8" height="7.8" rx=".8" fill="url(#grnsq)"/><path d="M399.2 3.4h5.8v3.4h-1.2v-1h-3.4v1h-1.2z" fill="#fff"/><rect x="400.4" y="4.2" width="3.4" height=".8" fill="#9ad07a"/><rect x="399.3" y="1.2" width="1" height="1" fill="#fff" opacity=".7"/>
<rect x="406.1" y="0" width="7.8" height="7.8" rx=".8" fill="url(#bluesq)"/><path d="M407.1 3.4h5.8v3.4h-1.2v-1h-3.4v1h-1.2z" fill="#fff"/><rect x="408.3" y="4.2" width="3.4" height=".8" fill="#8ab0f0"/><rect x="407.20000000000005" y="1.2" width="1" height="1" fill="#fff" opacity=".7"/>
<rect x="398.2" y="8" width="7.8" height="7.8" rx=".8" fill="url(#bluesq)"/><path d="M399.2 11.4h5.8v3.4h-1.2v-1h-3.4v1h-1.2z" fill="#fff"/><rect x="400.4" y="12.2" width="3.4" height=".8" fill="#8ab0f0"/><rect x="399.3" y="9.2" width="1" height="1" fill="#fff" opacity=".7"/>
<rect x="406.1" y="8" width="7.8" height="7.8" rx=".8" fill="url(#grnsq)"/><path d="M407.1 11.4h5.8v3.4h-1.2v-1h-3.4v1h-1.2z" fill="#fff"/><rect x="408.3" y="12.2" width="3.4" height=".8" fill="#9ad07a"/><rect x="407.20000000000005" y="9.2" width="1" height="1" fill="#fff" opacity=".7"/>
<rect x="423" y="0" width="1" height="17.5" fill="#999" shape-rendering="crispEdges"/>
<rect x="429" y="0" width="24" height="18" fill="url(#chk)" shape-rendering="crispEdges"/>
<rect x="428" y="0" width="1" height="18" fill="#999" shape-rendering="crispEdges"/>
<path d="M436.5 2.5V15.7M434 13.5H446.5" stroke="#585858" stroke-width="1.3" fill="none"/><path d="M434.4 4.6L436.5 2L438.6 4.6Z M445.4 11.6L448 13.5L445.4 15.4Z" fill="#585858"/>
<path d="M441.3 4.1V11L445.2 7.5Z" fill="#62e26a" stroke="#129a1c" stroke-width="1"/>
<rect x="457" y="0" width="24" height="18" fill="url(#chk)" shape-rendering="crispEdges"/>
<rect x="456" y="0" width="1" height="18" fill="#999" shape-rendering="crispEdges"/>
<path d="M464.5 2.5V15.7M462 13.5H474.5" stroke="#585858" stroke-width="1.3" fill="none"/><path d="M462.4 4.6L464.5 2L466.6 4.6Z M473.4 11.6L476 13.5L473.4 15.4Z" fill="#585858"/>
<path d="M470.5 2.2V11.7" stroke="#1a74a4" stroke-width="1.2"/><path d="M471.3 7.5H476.2" stroke="#e45208" stroke-width="1.2"/><path d="M471.2 7.5L474 5V10Z" fill="#e45208"/>
<rect x="485" y="0" width="1" height="17.5" fill="#999" shape-rendering="crispEdges"/>
<path d="M496.5 .6h7.5l3.3 3.3v8.6q0 1-1 1h-9.8q-1 0-1-1v-10.9q0-1 1-1z" fill="#fbfbfb" stroke="#8e8e8e" stroke-width=".9"/><path d="M504.0 .6v3.3h3.3" fill="#e4e4e4" stroke="#8e8e8e" stroke-width=".7"/>
<path d="M500.6 2.6q-1.6-.2-1.6 1.4V10M497.7 5.6h2.8" stroke="#555" stroke-width="1" fill="none"/>
<path d="M503.40000000000003 6.6h3.8v3.7h3.7v3.8h-3.7v3.7h-3.8v-3.7h-3.7v-3.8h3.7z" fill="url(#plus)" stroke="#0c8c0c" stroke-width=".5"/><path d="M504.3 7.6h1.6v3.7h-1.6zM500.7 11.2h3.6v1.2h-3.6z" fill="#a8ffa0" opacity=".55"/>
<polygon points="516.6,7 522.6,7 519.6,10.2" fill="#000"/>
<circle cx="540.9" cy="7.8" r="6.9" fill="#f4f6fa" stroke="url(#clk)" stroke-width="2.5"/><path d="M540.4 3.6V8H543.4" stroke="#333" stroke-width="1.2" fill="none"/><circle cx="540.9" cy="7.8" r="5" fill="none" stroke="#b8b8b8" stroke-width=".7" stroke-dasharray=".7 1.9"/>
<polygon points="555.5,7 561.5,7 558.5,10.2" fill="#000"/>
<rect x="572.6" y="1.6" width="15.2" height="13.2" fill="#fff" stroke="#3d7fd0" stroke-width="1"/><rect x="573" y="2" width="14.4" height="2" fill="#8fb8e8"/><path d="M573 8.6H587.4" stroke="#3d7fd0" stroke-width=".9"/><path d="M574.3 7.3h1.6l1.8-1.6h1.6l1.4.9h1.8l1.8-1.4h1.4" stroke="#a02a0a" stroke-width="1.45" fill="none"/><path d="M575 12.6l2-1 1.6.6 2.2-2.2 1.4-.2 2.2 2.6" stroke="#1a8a2a" stroke-width="1.45" fill="none"/>
<polygon points="594.6,7 600.6,7 597.6,10.2" fill="#000"/>
<rect x="606" y="0" width="1" height="20" fill="#a0a0a0" shape-rendering="crispEdges"/><rect x="607" y="0" width="1" height="20" fill="#fff" shape-rendering="crispEdges"/>
<rect x="610" y="0" width="3" height="1" fill="#a6a6a6" shape-rendering="crispEdges"/>
<rect x="610" y="2" width="3" height="1" fill="#a6a6a6" shape-rendering="crispEdges"/>
<rect x="610" y="4" width="3" height="1" fill="#a6a6a6" shape-rendering="crispEdges"/>
<rect x="610" y="6" width="3" height="1" fill="#a6a6a6" shape-rendering="crispEdges"/>
<rect x="610" y="8" width="3" height="1" fill="#a6a6a6" shape-rendering="crispEdges"/>
<rect x="610" y="10" width="3" height="1" fill="#a6a6a6" shape-rendering="crispEdges"/>
<rect x="610" y="12" width="3" height="1" fill="#a6a6a6" shape-rendering="crispEdges"/>
<rect x="610" y="14" width="3" height="1" fill="#a6a6a6" shape-rendering="crispEdges"/>
<rect x="610" y="16" width="3" height="1" fill="#a6a6a6" shape-rendering="crispEdges"/>
<rect x="617" y="0" width="24" height="18" fill="url(#chk)" shape-rendering="crispEdges"/>
<rect x="616" y="0" width="1" height="18" fill="#999" shape-rendering="crispEdges"/>
<path d="M624.2 1.2V12L626.5 10L628.9 15.2L630.8 14.2L628.4 9.2L632.2 8.6Z" fill="#585858"/>
<path d="M656.5 1V6.6M656.5 10.2V16M649 8.5H654.8M658.2 8.5H664.2" stroke="#585858" stroke-width="1.3"/><rect x="656" y="8" width="1" height="1" fill="#585858"/>
<rect x="673" y="0" width="1" height="17.5" fill="#999" shape-rendering="crispEdges"/>
<path d="M690.5 1.9V15" stroke="#585858" stroke-width="1.5"/>
<path d="M713 8.5H725.2" stroke="#585858" stroke-width="1.4"/>
<path d="M740.7 14.9L753.1 2.5" stroke="#585858" stroke-width="1.3"/>
<path d="M766.9 9.7L774.8 2.2M767.9 13.6L780.4 3.1M772.3 14.8L781.1 6.3" stroke="#585858" stroke-width="1.25"/><path d="M769 12.8L770.4 7.6L772.4 10L773.8 5.6L775.8 8L777.4 3.6L778.6 0" stroke="#585858" stroke-width="1.2" fill="none"/>
<path d="M778.4 12.4v4.6h3.4M778.4 12.7h3.2M778.4 14.7h2.8" stroke="#333" stroke-width="1.1" fill="none"/>
<rect x="796" y="1" width="1" height="1" fill="#555" shape-rendering="crispEdges"/>
<rect x="798" y="1" width="1" height="1" fill="#555" shape-rendering="crispEdges"/>
<rect x="800" y="1" width="1" height="1" fill="#555" shape-rendering="crispEdges"/>
<rect x="802" y="1" width="1" height="1" fill="#555" shape-rendering="crispEdges"/>
<rect x="804" y="1" width="1" height="1" fill="#555" shape-rendering="crispEdges"/>
<rect x="806" y="1" width="1" height="1" fill="#555" shape-rendering="crispEdges"/>
<rect x="808" y="1" width="1" height="1" fill="#555" shape-rendering="crispEdges"/>
<rect x="796" y="4" width="1" height="1" fill="#555" shape-rendering="crispEdges"/>
<rect x="798" y="4" width="1" height="1" fill="#555" shape-rendering="crispEdges"/>
<rect x="800" y="4" width="1" height="1" fill="#555" shape-rendering="crispEdges"/>
<rect x="802" y="4" width="1" height="1" fill="#555" shape-rendering="crispEdges"/>
<rect x="804" y="4" width="1" height="1" fill="#555" shape-rendering="crispEdges"/>
<rect x="806" y="4" width="1" height="1" fill="#555" shape-rendering="crispEdges"/>
<rect x="808" y="4" width="1" height="1" fill="#555" shape-rendering="crispEdges"/>
<rect x="796" y="8" width="1" height="1" fill="#555" shape-rendering="crispEdges"/>
<rect x="798" y="8" width="1" height="1" fill="#555" shape-rendering="crispEdges"/>
<rect x="800" y="8" width="1" height="1" fill="#555" shape-rendering="crispEdges"/>
<rect x="802" y="8" width="1" height="1" fill="#555" shape-rendering="crispEdges"/>
<rect x="804" y="8" width="1" height="1" fill="#555" shape-rendering="crispEdges"/>
<rect x="806" y="8" width="1" height="1" fill="#555" shape-rendering="crispEdges"/>
<rect x="808" y="8" width="1" height="1" fill="#555" shape-rendering="crispEdges"/>
<rect x="796" y="12" width="1" height="1" fill="#555" shape-rendering="crispEdges"/>
<rect x="798" y="12" width="1" height="1" fill="#555" shape-rendering="crispEdges"/>
<rect x="800" y="12" width="1" height="1" fill="#555" shape-rendering="crispEdges"/>
<rect x="802" y="12" width="1" height="1" fill="#555" shape-rendering="crispEdges"/>
<rect x="804" y="12" width="1" height="1" fill="#555" shape-rendering="crispEdges"/>
<path d="M806.6 17v-4.4h3.2M806.6 14.8h2.6" stroke="#333" stroke-width="1.1" fill="none"/>
<text x="830.75" y="13" font-size="11.7" fill="#5a5a5a" text-anchor="middle" stroke="#5a5a5a" stroke-width=".3">A</text>
<rect x="853.3" y="2.7" width="11" height="11.8" fill="none" stroke="#444" stroke-width="1.1" stroke-dasharray="1 1"/>
<text x="858.95" y="12.7" font-size="10.2" fill="#5a5a5a" text-anchor="middle" stroke="#5a5a5a" stroke-width=".35">T</text>
<path d="M880 6.3L883.6 2.2L887.2 6.3Z" fill="#585858"/><rect x="881.8" y="5" width="3.6" height="1.6" fill="#585858"/><path d="M882.4 9.2L884.4 11.4L888.6 6.4" stroke="#585858" stroke-width="1.4" fill="none"/><path d="M887.4 11.2L890.7 15.1L894 11.2Z" fill="#585858"/><rect x="889" y="10" width="3.4" height="1.6" fill="#585858"/>
<polygon points="900.6,7 906.6,7 903.6,10.2" fill="#000"/>
<rect x="912" y="0" width="1" height="20" fill="#a0a0a0" shape-rendering="crispEdges"/><rect x="913" y="0" width="1" height="20" fill="#fff" shape-rendering="crispEdges"/>
<rect x="916" y="0" width="3" height="1" fill="#a6a6a6" shape-rendering="crispEdges"/>
<rect x="916" y="2" width="3" height="1" fill="#a6a6a6" shape-rendering="crispEdges"/>
<rect x="916" y="4" width="3" height="1" fill="#a6a6a6" shape-rendering="crispEdges"/>
<rect x="916" y="6" width="3" height="1" fill="#a6a6a6" shape-rendering="crispEdges"/>
<rect x="916" y="8" width="3" height="1" fill="#a6a6a6" shape-rendering="crispEdges"/>
<rect x="916" y="10" width="3" height="1" fill="#a6a6a6" shape-rendering="crispEdges"/>
<rect x="916" y="12" width="3" height="1" fill="#a6a6a6" shape-rendering="crispEdges"/>
<rect x="916" y="14" width="3" height="1" fill="#a6a6a6" shape-rendering="crispEdges"/>
<rect x="916" y="16" width="3" height="1" fill="#a6a6a6" shape-rendering="crispEdges"/>
<rect x="1063" y="0" width="24" height="18" fill="url(#chk)" shape-rendering="crispEdges"/>
<rect x="1062" y="0" width="1" height="18" fill="#999" shape-rendering="crispEdges"/>
<text x="927.3" y="12" font-size="9.2" fill="#3c3c3c" textLength="13.2" lengthAdjust="spacingAndGlyphs" stroke="#3c3c3c" stroke-width=".2">M1</text>
<text x="955.3" y="12" font-size="9.2" fill="#3c3c3c" textLength="13.1" lengthAdjust="spacingAndGlyphs" stroke="#3c3c3c" stroke-width=".2">M5</text>
<text x="981.2" y="12" font-size="9.2" fill="#3c3c3c" textLength="18.5" lengthAdjust="spacingAndGlyphs" stroke="#3c3c3c" stroke-width=".2">M15</text>
<text x="1009.3" y="12" font-size="9.2" fill="#3c3c3c" textLength="18.6" lengthAdjust="spacingAndGlyphs" stroke="#3c3c3c" stroke-width=".2">M30</text>
<text x="1039.9" y="12" font-size="9.2" fill="#3c3c3c" textLength="12.6" lengthAdjust="spacingAndGlyphs" stroke="#3c3c3c" stroke-width=".2">H1</text>
<text x="1067" y="12" font-size="9.2" fill="#3c3c3c" textLength="13.1" lengthAdjust="spacingAndGlyphs" stroke="#3c3c3c" stroke-width=".2">H4</text>
<text x="1096.1" y="12" font-size="9.2" fill="#3c3c3c" textLength="12.6" lengthAdjust="spacingAndGlyphs" stroke="#3c3c3c" stroke-width=".2">D1</text>
<text x="1123.5" y="12" font-size="9.2" fill="#3c3c3c" textLength="15" lengthAdjust="spacingAndGlyphs" stroke="#3c3c3c" stroke-width=".2">W1</text>
<text x="1150.1" y="12" font-size="9.2" fill="#3c3c3c" textLength="15.2" lengthAdjust="spacingAndGlyphs" stroke="#3c3c3c" stroke-width=".2">MN</text>
<rect x="1174" y="0" width="1" height="20" fill="#a0a0a0" shape-rendering="crispEdges"/><rect x="1175" y="0" width="1" height="20" fill="#fff" shape-rendering="crispEdges"/>
<path d="M1640.2 8.7L1635.9 13" stroke="#2450c4" stroke-width="2.8" stroke-linecap="round"/><circle cx="1643.6" cy="5.3" r="3.9" fill="#f4f4f4" stroke="#2450c4" stroke-width="1.3"/>
<path d="M1661.2 10.6q0-4.6 5-4.6q5 0 5 4.6q0 3.4-4.4 3.6l-2.6 2.2l.2-2.5q-3.2-.6-3.2-3.3z" fill="#e6e9f0" stroke="#b4b7be" stroke-width=".8"/><circle cx="1674.3" cy="6" r="8.2" fill="url(#redb)"/><text x="1674.3" y="10" font-size="11.5" font-weight="bold" fill="#fff" text-anchor="middle">1</text>
</g>
</svg>
</body></html>
